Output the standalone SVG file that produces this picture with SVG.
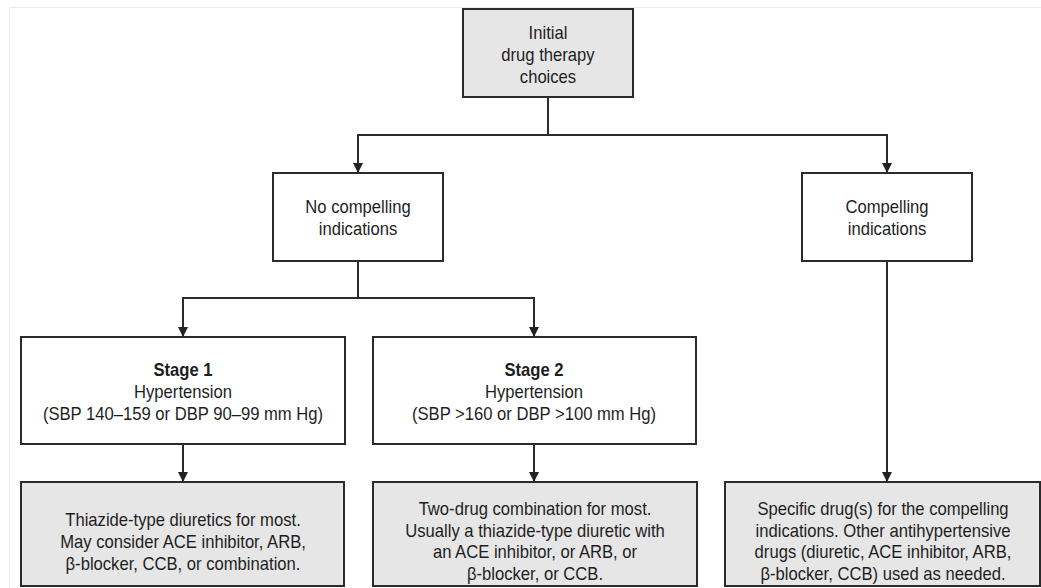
<svg xmlns="http://www.w3.org/2000/svg" width="1041" height="588" viewBox="0 0 1041 588">
  <defs>
    <marker id="arrow" viewBox="0 0 10 10" refX="10" refY="5" markerWidth="10" markerHeight="10" markerUnits="userSpaceOnUse" orient="auto">
      <path d="M0,0 L10,5 L0,10 Z" fill="#222"/>
    </marker>
    <style>
      .frame { fill: none; stroke: #ececec; stroke-width: 1; }
      .box { fill: #ffffff; stroke: #2b2b2b; stroke-width: 2; }
      .box.shade { fill: #e6e6e6; }
      .wire { fill: none; stroke: #2b2b2b; stroke-width: 2; }
      .arr { marker-end: url(#arrow); }
      text { font-family: "Liberation Sans", Arial, sans-serif; font-size: 19px; fill: #1e1e1e; text-anchor: middle; }
      .b { font-weight: bold; }
    </style>
  </defs>

  <rect width="1041" height="588" fill="#ffffff"/>
  <path class="frame" d="M9.5,588 L9.5,7.5 L1041,7.5"/>

  <!-- connectors -->
  <g id="connectors">
    <path class="wire" d="M548,97 L548,135"/>
    <path class="wire" d="M358,135 L887,135"/>
    <path class="wire arr" d="M358,134 L358,173"/>
    <path class="wire arr" d="M887,134 L887,173"/>
    <path class="wire" d="M358,261 L358,298"/>
    <path class="wire" d="M183,298 L534,298"/>
    <path class="wire arr" d="M183,297 L183,337"/>
    <path class="wire arr" d="M534,297 L534,337"/>
    <path class="wire arr" d="M183,444 L183,482"/>
    <path class="wire arr" d="M534,444 L534,482"/>
    <path class="wire arr" d="M887,261 L887,482"/>
  </g>

  <!-- labels use a condensed Arial-metric face: each block is narrowed about its centre -->
  <g id="initial">
    <rect class="box shade" x="463" y="9" width="170" height="88"/>
    <g transform="translate(548,0) scale(0.875,1)">
      <text x="0" y="39">Initial</text>
      <text x="0" y="61">drug therapy</text>
      <text x="0" y="83">choices</text>
    </g>
  </g>

  <g id="no-compelling">
    <rect class="box" x="273" y="173" width="170" height="88"/>
    <g transform="translate(358,0) scale(0.875,1)">
      <text x="0" y="213">No compelling</text>
      <text x="0" y="235">indications</text>
    </g>
  </g>

  <g id="compelling">
    <rect class="box" x="802" y="173" width="170" height="88"/>
    <g transform="translate(887,0) scale(0.875,1)">
      <text x="0" y="213">Compelling</text>
      <text x="0" y="235">indications</text>
    </g>
  </g>

  <g id="stage1">
    <rect class="box" x="21" y="337" width="324" height="107"/>
    <g transform="translate(183,0) scale(0.875,1)">
      <text class="b" x="0" y="376">Stage 1</text>
      <text x="0" y="398">Hypertension</text>
      <text x="0" y="420">(SBP 140–159 or DBP 90–99 mm Hg)</text>
    </g>
  </g>

  <g id="stage2">
    <rect class="box" x="373" y="337" width="323" height="107"/>
    <g transform="translate(534,0) scale(0.875,1)">
      <text class="b" x="0" y="376">Stage 2</text>
      <text x="0" y="398">Hypertension</text>
      <text x="0" y="420">(SBP &gt;160 or DBP &gt;100 mm Hg)</text>
    </g>
  </g>

  <g id="stage1-drugs">
    <rect class="box shade" x="21" y="482" width="323" height="104"/>
    <g transform="translate(183,0) scale(0.875,1)">
      <text x="0" y="526">Thiazide-type diuretics for most.</text>
      <text x="0" y="548">May consider ACE inhibitor, ARB,</text>
      <text x="0" y="570">β-blocker, CCB, or combination.</text>
    </g>
  </g>

  <g id="stage2-drugs">
    <rect class="box shade" x="373" y="482" width="324" height="104"/>
    <g transform="translate(535,0) scale(0.875,1)">
      <text x="0" y="515">Two-drug combination for most.</text>
      <text x="0" y="537">Usually a thiazide-type diuretic with</text>
      <text x="0" y="558">an ACE inhibitor, or ARB, or</text>
      <text x="0" y="580">β-blocker, or CCB.</text>
    </g>
  </g>

  <g id="compelling-drugs">
    <rect class="box shade" x="725" y="482" width="315" height="104"/>
    <g transform="translate(883,0) scale(0.875,1)">
      <text x="0" y="515">Specific drug(s) for the compelling</text>
      <text x="0" y="537">indications. Other antihypertensive</text>
      <text x="0" y="558">drugs (diuretic, ACE inhibitor, ARB,</text>
      <text x="0" y="580">β-blocker, CCB) used as needed.</text>
    </g>
  </g>
</svg>
